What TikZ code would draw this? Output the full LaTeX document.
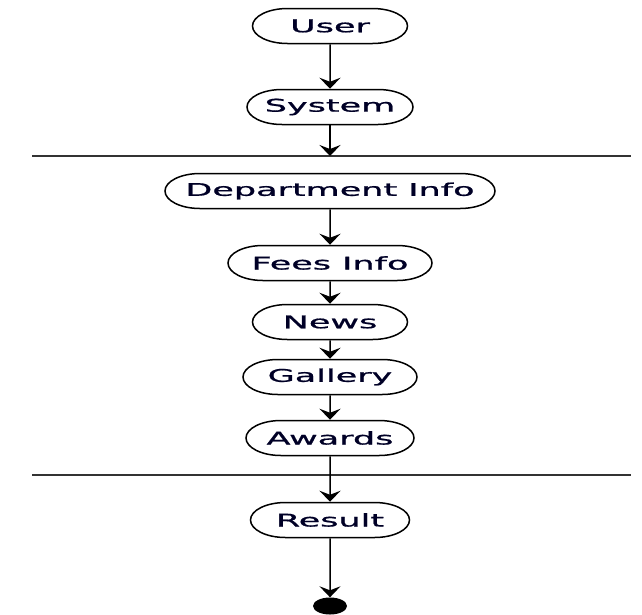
\documentclass[tikz,border=0pt]{standalone}
\usepackage{fontspec}
\setmainfont{DejaVu Sans}
\newfontfamily\actfont[FakeBold=0.8]{DejaVu Sans}
\usetikzlibrary{shapes.misc,arrows.meta}
\begin{document}
\begin{tikzpicture}[x=1pt,y=1pt,
  act/.style={rounded rectangle, draw=black, line width=1.5pt,
    minimum height=35pt, inner sep=0pt, transform shape,
    font=\actfont\fontsize{17.5}{17.5}\selectfont, text=black!85!blue},
  flow/.style={-{Stealth[length=11pt,width=21pt,inset=4pt]}, line width=1.5pt},
  bar/.style={line width=1.6pt, draw=black!80}]
\useasboundingbox (0,0) rectangle (642,-614);

% swimlane separators
\coordinate (barAL) at (32,-156);
\coordinate (barAR) at (631,-156);
\coordinate (barBL) at (32,-475);
\coordinate (barBR) at (631,-475);
\coordinate (barAhit) at (330,-156);
\draw[bar] (barAL) -- (barAR);
\draw[bar] (barBL) -- (barBR);

% activities, drawn in a horizontally stretched frame
\begin{scope}[xscale=2]
  \node[act, minimum width=77.5] (user)    at (165,-26)  {User};
  \node[act, minimum width=83]   (system)  at (165,-107) {System};
  \node[act, minimum width=165]  (dept)    at (165,-191) {Department Info};
  \node[act, minimum width=102]  (fees)    at (165,-263) {Fees Info};
  \node[act, minimum width=77.5] (news)    at (165,-322) {News};
  \node[act, minimum width=87]   (gallery) at (165,-377) {Gallery};
  \node[act, minimum width=84]   (awards)  at (165,-438) {Awards};
  \node[act, minimum width=79.5] (result)  at (165,-520) {Result};
  \node[circle, fill=black, minimum size=17pt, inner sep=0pt, transform shape]
    (final) at (165,-606) {};
\end{scope}

% control flow
\draw[flow] (user) -- (system);
\draw[flow] (system) -- (barAhit);
\draw[flow] (dept) -- (fees);
\draw[flow] (fees) -- (news);
\draw[flow] (news) -- (gallery);
\draw[flow] (gallery) -- (awards);
\draw[flow] (awards) -- (result);
\draw[flow] (result) -- (final);
\end{tikzpicture}
\end{document}
